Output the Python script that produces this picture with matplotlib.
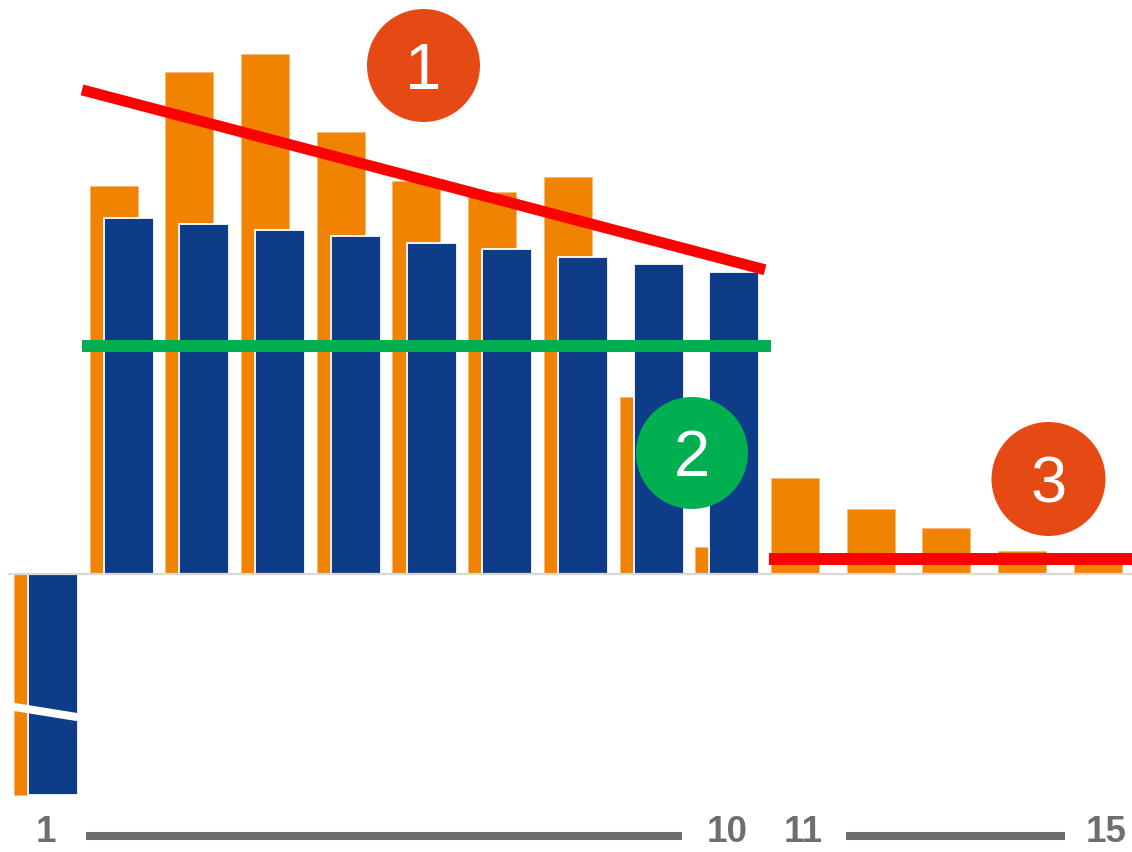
import numpy as np
import matplotlib
matplotlib.use("Agg")
import matplotlib.pyplot as plt
from matplotlib.patches import Circle
from matplotlib.transforms import blended_transform_factory

# ---------------- data ----------------
categories = ["1", "2", "3", "4", "5", "6", "7", "8", "9", "10",
              "11", "12", "13", "14", "15"]
orange_vals = [-42.5, 74.6, 96.5, 100.0, 85.0, 75.6, 73.5, 76.3, 34.0, 5.2,
               18.5, 12.5, 8.8, 4.4, 3.5]
blue_vals = [-42.5, 68.5, 67.3, 66.2, 65.0, 63.7, 62.5, 61.0, 59.6, 58.1,
             np.nan, np.nan, np.nan, np.nan, np.nan]
shown_labels = ["1", "10", "11", "15"]

# annotation lines (data units)
trend_x = [0.476, 9.498]
trend_y = [93.1, 58.5]
mean_level = 43.8
mean_x = [0.476, 9.577]
low_level = 2.9
low_x = [9.55, 14.36]
break_x = [-0.45, 0.45]
break_y = [-25.5, -27.6]

# ---------------- style ----------------
ORANGE = "#F08300"
BLUE = "#0F3C89"
RED = "#FF0000"
GREEN = "#00B050"
BADGE = "#E64A14"
GREY = "#6D6E70"

plt.rcParams["font.family"] = ["Liberation Sans", "DejaVu Sans"]

W, H = 1132, 852
fig = plt.figure(figsize=(W / 100, H / 100), dpi=100)
ax = fig.add_axes([0, 52 / H, 1, 800 / H])

x = np.arange(len(categories))
slot = 75.7
ax.bar(x - 8 / slot, orange_vals, width=48 / slot, color=ORANGE,
       edgecolor="#F6B774", linewidth=0.5, zorder=1)
ax.bar(x + 7 / slot, blue_vals, width=50 / slot, color=BLUE,
       edgecolor="white", linewidth=1.3, zorder=2)

# axis baseline
ax.plot([-0.502, 14.5], [0, 0], color="#D9D9D9", lw=1.6, zorder=2.5,
        solid_capstyle="butt")

# break marker on category 1
ax.plot(break_x, break_y, color="white", lw=5.8, zorder=3,
        solid_capstyle="butt")

# annotation lines
ax.plot(trend_x, trend_y, color=RED, lw=7.9, zorder=4, solid_capstyle="butt")
ax.plot(mean_x, [mean_level, mean_level], color=GREEN, lw=8.6, zorder=4,
        solid_capstyle="butt")
ax.plot(low_x, [low_level, low_level], color=RED, lw=8.6, zorder=4,
        solid_capstyle="butt")

ax.set_xlim(-46 / slot, (W - 46) / slot)
ax.set_ylim(-226 / 5.2, 574 / 5.2)

# ticks
tick_pos = [categories.index(s) for s in shown_labels]
ax.set_xticks(tick_pos)
ax.set_xticklabels(shown_labels, fontsize=26.5, fontweight="bold", color=GREY)
ax.tick_params(axis="x", length=0, pad=10.5)
ax.set_yticks([])
for s in ax.spines.values():
    s.set_visible(False)

# connector lines between tick labels
tr = blended_transform_factory(ax.transData, ax.transAxes)
yline = -35.5 / 800
for x0, x1 in [(0.528, 8.40), (10.568, 13.46)]:
    ax.plot([x0, x1], [yline, yline], color=GREY, lw=5.8, transform=tr,
            clip_on=False, solid_capstyle="butt")

# numbered badges
badges = [("1", 423.5, 65.5, 56.5, BADGE),
          ("2", 692.0, 453.0, 56.0, GREEN),
          ("3", 1048.5, 479.0, 57.0, BADGE)]
for label, cx, cy, r, col in badges:
    c = Circle((cx / 100, (H - cy) / 100), r / 100, transform=fig.dpi_scale_trans,
               facecolor=col, edgecolor="none", zorder=10)
    fig.add_artist(c)
    fig.text(cx / W, (H - cy - 23.5) / H, label, color="white", fontsize=47,
             ha="center", va="baseline", zorder=11)

fig.savefig("out.png", dpi=100)
